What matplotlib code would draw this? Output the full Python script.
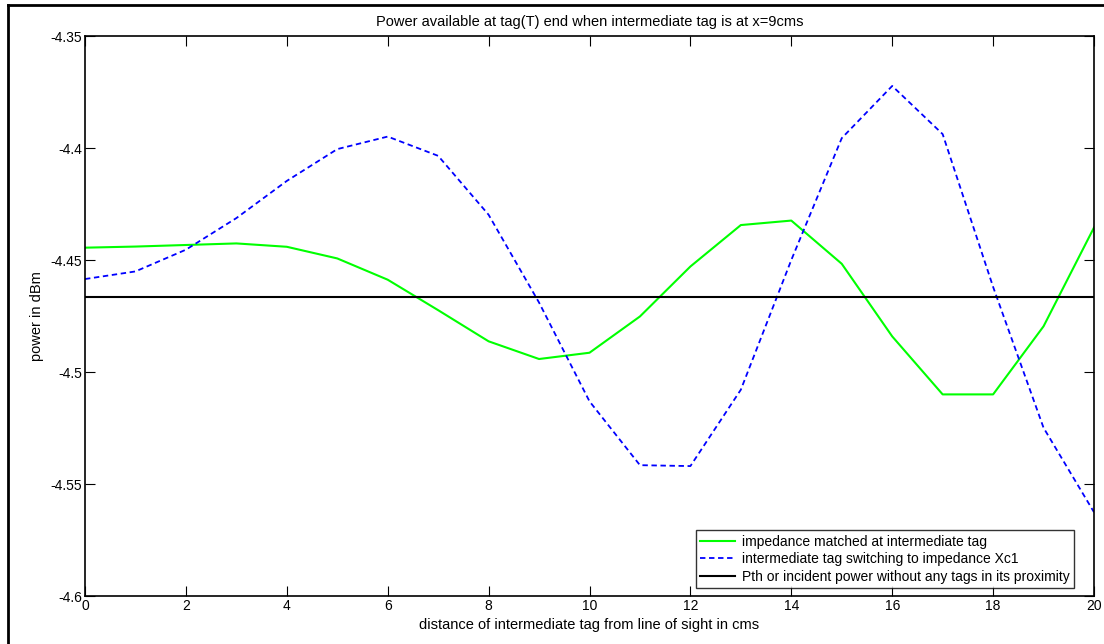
import numpy as np
import matplotlib
matplotlib.use("Agg")
import matplotlib.pyplot as plt
from matplotlib.lines import Line2D

plt.rcParams['font.family'] = ['Liberation Sans', 'DejaVu Sans']

# distance of intermediate tag (cms)
dist = np.arange(0, 21)

# impedance matched at intermediate tag
p_matched = [-4.4445, -4.4440, -4.4433, -4.4426, -4.4441, -4.4493, -4.4588,
             -4.4724, -4.4863, -4.4942, -4.4914, -4.4752, -4.4529, -4.4344,
             -4.4324, -4.4517, -4.4841, -4.5100, -4.5100, -4.4796, -4.4355]

# intermediate tag switching to impedance Xc1
p_switch = [-4.4585, -4.4551, -4.4454, -4.4313, -4.4147, -4.4005, -4.3949,
            -4.4035, -4.4298, -4.4690, -4.5131, -4.5416, -4.5420, -4.5079,
            -4.4500, -4.3956, -4.3723, -4.3938, -4.4620, -4.5249, -4.5626]

# Pth, no tags nearby
p_th = -4.4663

fig = plt.figure(figsize=(11.04, 6.44), dpi=100)
W, H = 1104, 644
ax = fig.add_axes([85 / W, 1 - 596 / H, (1094 - 85) / W, (596 - 36) / H])

ax.plot(dist, p_matched, color='#00ff00', lw=1.5, label='impedance matched at intermediate tag')
ax.plot(dist, p_switch, color='#0000ff', lw=1.3, ls=(0, (3, 2)),
        label='intermediate tag switching to impedance Xc1')
ax.plot([dist[0], dist[-1]], [p_th, p_th], color='black', lw=1.5,
        label='Pth or incident power without any tags in its proximity')

ax.set_xlim(0, 20)
ax.set_ylim(-4.6, -4.35)
ax.set_xticks(np.arange(0, 21, 2))
ax.set_yticks([-4.6, -4.55, -4.5, -4.45, -4.4, -4.35])
ax.set_yticklabels(['-4.6', '-4.55', '-4.5', '-4.45', '-4.4', '-4.35'])
ax.tick_params(direction='in', length=7, width=0.8, labelsize=10, pad=2,
               top=True, right=True, colors='black')
for s in ax.spines.values():
    s.set_linewidth(1.2)

ax.set_title('Power available at tag(T) end when intermediate tag is at x=9cms',
             fontsize=10.5, pad=7)
ax.set_xlabel('distance of intermediate tag from line of sight in cms', fontsize=10.5, labelpad=4)
ax.set_ylabel('power in dBm', fontsize=10.5, labelpad=5)

leg = ax.legend(loc='lower right', fontsize=10, frameon=True, fancybox=False,
                borderpad=0.3, labelspacing=0.25, handlelength=2.5, handletextpad=0.5,
                borderaxespad=0.6, bbox_to_anchor=(0.988, 0.0))
leg.get_frame().set_edgecolor('black')
leg.get_frame().set_linewidth(1.0)

# figure border (top and left)
fig.add_artist(Line2D([8 / W, 1.0], [1 - 5 / H, 1 - 5 / H], transform=fig.transFigure,
                      color='black', lw=2))
fig.add_artist(Line2D([8 / W, 8 / W], [0.0, 1 - 5 / H], transform=fig.transFigure,
                      color='black', lw=2))

fig.savefig('out.png', dpi=100)
